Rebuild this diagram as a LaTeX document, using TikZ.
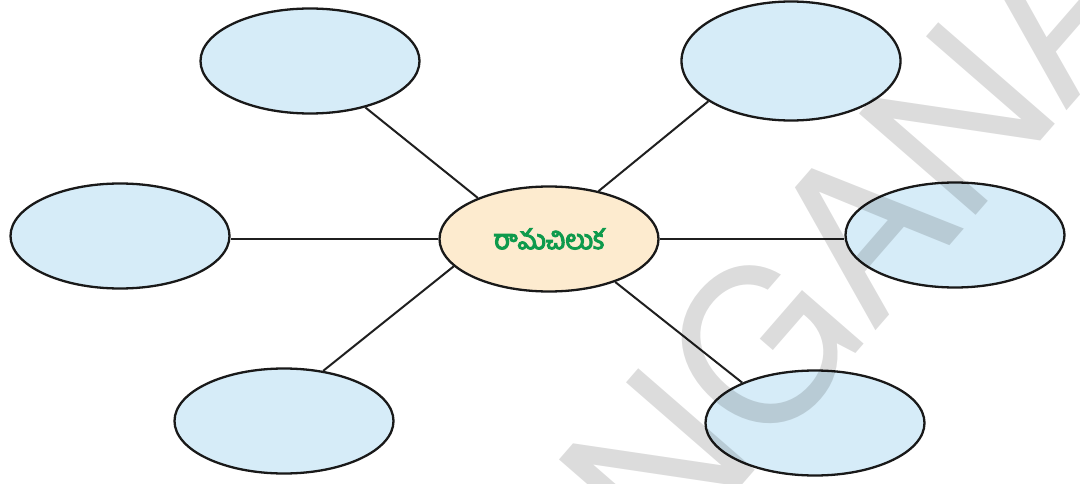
\documentclass[tikz,border=0pt]{standalone}
\usepackage{fontspec}
\setmainfont{TeX Gyre Heros}
\newfontfamily\telugu[Script=Telugu, FakeBold=4]{Hind Guntur}
\usetikzlibrary{shapes.geometric}
\definecolor{bubble}{HTML}{D6ECF8}
\definecolor{core}{HTML}{FDEBCF}
\definecolor{labelgreen}{HTML}{0E9A4C}
\definecolor{wmark}{HTML}{DCDCDC}
\begin{document}
\begin{tikzpicture}[x=1pt,y=-1pt,
  bub/.style={ellipse, draw=black!90, line width=2.3pt, fill=bubble,
              minimum width=219pt, minimum height=105pt, inner sep=0pt},
  hub/.style={bub, fill=core},
  link/.style={line width=2pt, draw=black!88},
  wm/.style={font=\fontsize{212}{212}\selectfont, text=wmark, inner sep=0pt}]
\useasboundingbox (0,0) rectangle (1080,484);
\clip (0,0) rectangle (1080,484);
\node[bub] (tl) at (310,61) {};
\node[bub, minimum height=119pt] (tr) at (791,61) {};
\node[bub] (l) at (120,236) {};
\node[hub] (c) at (549,239) {\telugu\fontsize{27}{30}\selectfont\color{labelgreen}రామచిలుక};
\node[bub] (r) at (955,235) {};
\node[bub] (bl) at (284,421) {};
\node[bub] (br) at (815,423) {};
\draw[link] (c.150) -- (tl.-40);
\draw[link] (c.44) -- (tr.-154);
\draw[link] (c.west) -- (c.west -| l.east);
\draw[link] (c.east) -- (c.east -| r.west);
\draw[link] (c.196) -- (bl.52);
\draw[link] (c.-33) -- (br.151);
\begin{scope}[blend mode=multiply]
\node[wm, rotate=49, anchor=base west] (mark) at (315,976) {TELANGANA};
\end{scope}
\end{tikzpicture}
\end{document}
